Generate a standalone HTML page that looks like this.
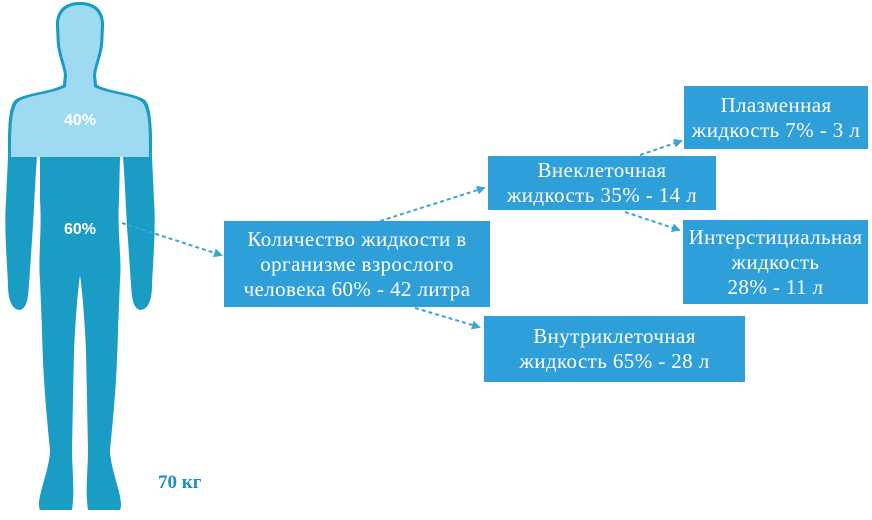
<!DOCTYPE html>
<html><head><meta charset="utf-8"><style>
body{margin:0;width:872px;height:520px;background:#fff;position:relative;overflow:hidden;font-family:"Liberation Serif",serif}
.b{position:absolute;background:#2e9fd9;color:#fff;font-size:21px;line-height:25px;letter-spacing:0.4px;text-align:center;display:flex;align-items:center;justify-content:center;box-sizing:border-box;white-space:nowrap}
</style></head><body>
<svg width="872" height="520" style="position:absolute;left:0;top:0">
<defs><clipPath id="top"><rect x="0" y="0" width="200" height="157"/></clipPath>
<marker id="a" markerWidth="9" markerHeight="9" refX="7" refY="4.5" orient="auto" markerUnits="userSpaceOnUse"><path d="M0,0 L9,4.5 L0,9 Z" fill="#3aa6d2"/></marker></defs>
<path fill="#1a9cc4" d="M80,2 C95,2 104,10 104,25 L103,45 C101,58 97,66 96,75 L97,85 C110,92 135,93 145,100 C152,108 152,130 152,157 L154,200 C156,230 153,260 152,285 C152,300 148,310 140,310 C132,308 132,295 131,285 L128,240 C126,215 125,180 123,157 L120,157 L119,200 C117,230 122,260 120,280 L118,330 C117,380 113,420 110,450 C110,470 125,500 120,510 L88,510 C85,490 88,470 88,450 L86,350 C84,310 82,290 80,275 C78,290 76,310 74,350 L72,450 C72,470 75,490 72,510 L40,510 C35,500 50,470 50,450 C47,420 43,380 42,330 L40,280 C38,260 42,230 40,200 L40,157 L37,157 C35,180 34,215 32,240 L29,285 C28,295 28,308 20,310 C12,310 8,300 8,285 C7,260 4,230 6,200 L8,157 C8,130 8,108 15,100 C25,93 50,92 63,85 L64,75 C63,66 59,58 57,45 L56,25 C56,10 65,2 80,2 Z"/>
<g clip-path="url(#top)"><path fill="#1a9cc4" d="M80,2 C95,2 104,10 104,25 L103,45 C101,58 97,66 96,75 L97,85 C110,92 135,93 145,100 C152,108 152,130 152,157 L8,157 C8,130 8,108 15,100 C25,93 50,92 63,85 L64,75 C63,66 59,58 57,45 L56,25 C56,10 65,2 80,2 Z"/>
<path fill="#9fdaf3" d="M80,5 C93,5 101,12 101,25 L100,45 C98,58 94,66 93,75 L94,87 C108,94 133,95 142,102 C149,110 149,130 149,157 L11,157 C11,130 11,110 18,102 C27,95 52,94 66,87 L67,75 C66,66 62,58 60,45 L59,25 C59,12 67,5 80,5 Z"/></g>
<text x="80" y="125" fill="#fff" font-family="Liberation Sans,sans-serif" font-weight="bold" font-size="16" text-anchor="middle">40%</text>
<text x="80" y="234" fill="#fff" font-family="Liberation Sans,sans-serif" font-weight="bold" font-size="16" text-anchor="middle">60%</text>
<g stroke="#3aa6d2" stroke-width="2" stroke-dasharray="4,3" fill="none" marker-end="url(#a)">
<line x1="122" y1="223" x2="221" y2="255"/>
<line x1="380" y1="221" x2="484" y2="188"/>
<line x1="640" y1="155" x2="681" y2="141"/>
<line x1="625" y1="212" x2="679" y2="230"/>
<line x1="415" y1="308" x2="479" y2="327"/>
</g>
<text x="158" y="488" fill="#1a8fc9" font-family="Liberation Serif,serif" font-weight="bold" font-size="19">70 кг</text>
</svg>
<div class="b" style="left:224px;top:221px;width:266px;height:86px">Количество жидкости в<br>организме взрослого<br>человека 60% - 42 литра</div>
<div class="b" style="left:488px;top:156px;width:228px;height:54px">Внеклеточная<br>жидкость 35% - 14 л</div>
<div class="b" style="left:684px;top:86px;width:184px;height:63px">Плазменная<br>жидкость 7% - 3 л</div>
<div class="b" style="left:683px;top:220px;width:185px;height:84px">Интерстициальная<br>жидкость<br>28% - 11 л</div>
<div class="b" style="left:484px;top:316px;width:261px;height:66px">Внутриклеточная<br>жидкость 65% - 28 л</div>
</body></html>
